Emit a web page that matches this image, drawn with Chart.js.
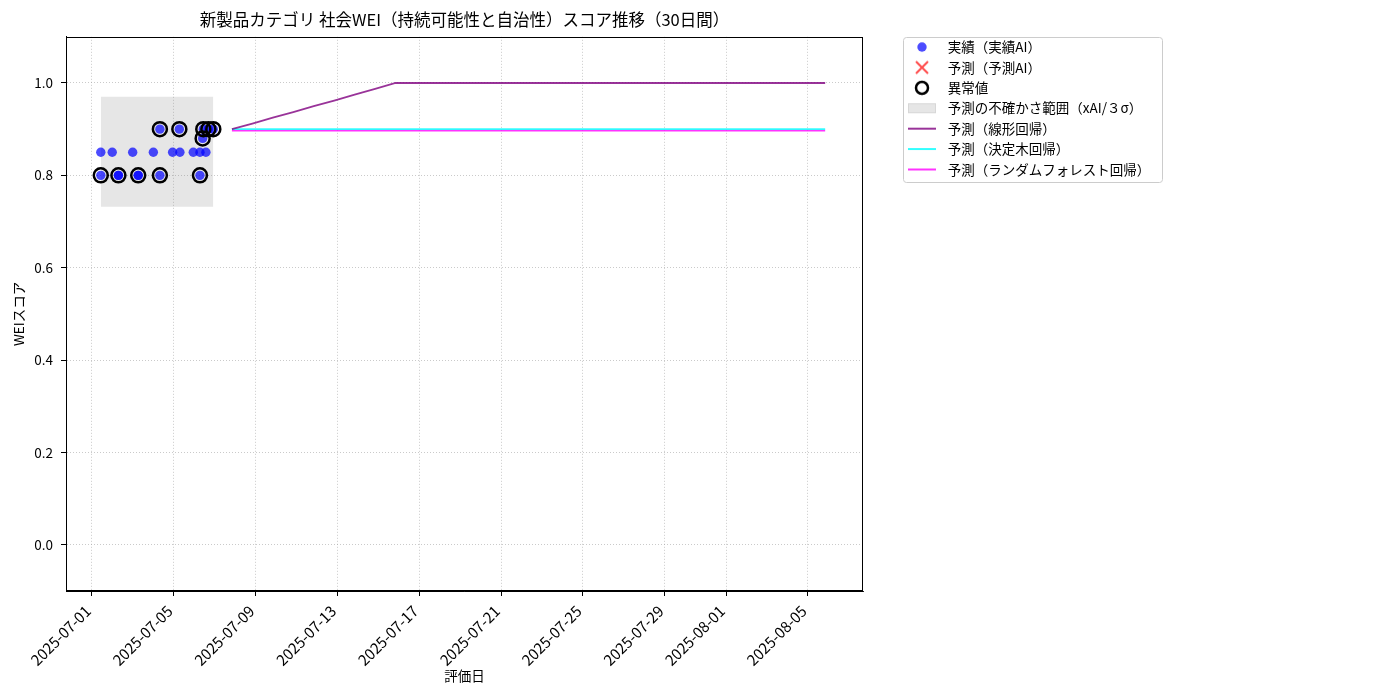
<!DOCTYPE html>
<html lang="ja">
<head>
<meta charset="utf-8">
<title>社会WEIスコア推移</title>
<script src="https://cdn.jsdelivr.net/npm/chart.js@4.4.1/dist/chart.umd.min.js"></script>
<style>
  html, body { margin: 0; padding: 0; background: #fff; }
  #chart { display: block; }
</style>
</head>
<body>
<canvas id="chart" width="1400" height="700"></canvas>
<script>
// 実績（評価日時とスコア）
const actualDates = [
    '2025-07-01T10:20', '2025-07-01T10:20', '2025-07-01T23:45',
    '2025-07-02T07:00', '2025-07-02T07:00', '2025-07-02T23:45',
    '2025-07-03T06:15', '2025-07-03T06:15', '2025-07-04T00:00',
    '2025-07-04T07:40', '2025-07-04T07:40', '2025-07-04T22:35',
    '2025-07-05T06:30', '2025-07-05T07:10', '2025-07-05T22:50',
    '2025-07-06T06:40', '2025-07-06T06:40', '2025-07-06T09:50',
    '2025-07-06T10:35', '2025-07-06T13:40', '2025-07-06T16:35',
    '2025-07-06T22:20'
];
const actualScores = [
    0.80, 0.85, 0.85,
    0.80, 0.80, 0.85,
    0.80, 0.80, 0.85,
    0.80, 0.90, 0.85,
    0.90, 0.85, 0.85,
    0.80, 0.85, 0.88,
    0.90, 0.85, 0.90,
    0.90
];

// 異常値
const outlierDates = [
    '2025-07-01T10:20', '2025-07-02T07:00', '2025-07-03T06:15',
    '2025-07-04T07:40', '2025-07-04T07:40', '2025-07-05T06:30',
    '2025-07-06T06:40', '2025-07-06T09:50', '2025-07-06T10:35',
    '2025-07-06T16:35', '2025-07-06T22:20'
];
const outlierScores = [0.80, 0.80, 0.80, 0.80, 0.90, 0.90, 0.80, 0.88, 0.90, 0.90, 0.90];

// 予測AI（図中に点は無い）
const aiDates = [];
const aiScores = [];

// 不確かさ範囲（xAI/3σ）
const bandDates = ['2025-07-01T10:20', '2025-07-06T22:20'];
const bandUpper = [0.970, 0.970];
const bandLower = [0.732, 0.732];

// 30日間の予測
const forecastDates = [
    '2025-07-07T20:10', '2025-07-08T20:10', '2025-07-09T20:10', '2025-07-10T20:10', '2025-07-11T20:10',
    '2025-07-12T20:10', '2025-07-13T20:10', '2025-07-14T20:10', '2025-07-15T20:10', '2025-07-16T20:10',
    '2025-07-17T20:10', '2025-07-18T20:10', '2025-07-19T20:10', '2025-07-20T20:10', '2025-07-21T20:10',
    '2025-07-22T20:10', '2025-07-23T20:10', '2025-07-24T20:10', '2025-07-25T20:10', '2025-07-26T20:10',
    '2025-07-27T20:10', '2025-07-28T20:10', '2025-07-29T20:10', '2025-07-30T20:10', '2025-07-31T20:10',
    '2025-08-01T20:10', '2025-08-02T20:10', '2025-08-03T20:10', '2025-08-04T20:10', '2025-08-05T20:10'
];
const linearScores = [
    0.900, 0.912, 0.925, 0.937, 0.950, 0.962, 0.975, 0.987, 1.000, 1.000,
    1.000, 1.000, 1.000, 1.000, 1.000, 1.000, 1.000, 1.000, 1.000, 1.000,
    1.000, 1.000, 1.000, 1.000, 1.000, 1.000, 1.000, 1.000, 1.000, 1.000
];
const treeScores = [
    0.900, 0.900, 0.900, 0.900, 0.900, 0.900, 0.900, 0.900, 0.900, 0.900,
    0.900, 0.900, 0.900, 0.900, 0.900, 0.900, 0.900, 0.900, 0.900, 0.900,
    0.900, 0.900, 0.900, 0.900, 0.900, 0.900, 0.900, 0.900, 0.900, 0.900
];
const forestScores = [
    0.897, 0.897, 0.897, 0.897, 0.897, 0.897, 0.897, 0.897, 0.897, 0.897,
    0.897, 0.897, 0.897, 0.897, 0.897, 0.897, 0.897, 0.897, 0.897, 0.897,
    0.897, 0.897, 0.897, 0.897, 0.897, 0.897, 0.897, 0.897, 0.897, 0.897
];

// 目盛り
const xTickLabels = [
    '2025-07-01', '2025-07-05', '2025-07-09', '2025-07-13', '2025-07-17',
    '2025-07-21', '2025-07-25', '2025-07-29', '2025-08-01', '2025-08-05'
];
const yTickValues = [0.0, 0.2, 0.4, 0.6, 0.8, 1.0];

const FONT = "'Noto Sans CJK JP', 'Noto Sans', sans-serif";
const BASE = Date.UTC(2025, 6, 1);

// 日付文字列 -> 2025-07-01 からの経過日数
function toDay(s) {
    const iso = s.length > 10 ? s + ':00Z' : s + 'T00:00:00Z';
    return (Date.parse(iso) - BASE) / 86400000;
}
function toPoints(dates, values) {
    return dates.map((d, i) => ({ x: toDay(d), y: values[i] }));
}
function dayLabel(v) {
    return new Date(BASE + Math.round(v * 86400000)).toISOString().slice(0, 10);
}
const xTickValues = xTickLabels.map(toDay);

// 凡例用の小さなアイコン
function makeIcon(draw) {
    const c = document.createElement('canvas');
    c.width = 34;
    c.height = 16;
    draw(c.getContext('2d'), 15, 8);
    return c;
}
const icons = {
    actual: makeIcon((g, x, y) => {
        g.fillStyle = 'rgba(0,0,255,0.7)';
        g.beginPath(); g.arc(x, y, 4.7, 0, Math.PI * 2); g.fill();
    }),
    ai: makeIcon((g, x, y) => {
        g.strokeStyle = 'rgba(255,0,0,0.7)';
        g.lineWidth = 2;
        g.beginPath();
        g.moveTo(x - 6, y - 6); g.lineTo(x + 6, y + 6);
        g.moveTo(x + 6, y - 6); g.lineTo(x - 6, y + 6);
        g.stroke();
    }),
    outlier: makeIcon((g, x, y) => {
        g.strokeStyle = '#000';
        g.lineWidth = 2.5;
        g.beginPath(); g.arc(x, y, 6, 0, Math.PI * 2); g.stroke();
    }),
    band: makeIcon((g, x, y) => {
        g.fillStyle = 'rgba(128,128,128,0.2)';
        g.fillRect(x - 14, y - 5, 28, 10);
        g.strokeStyle = 'rgba(128,128,128,0.15)';
        g.strokeRect(x - 13.5, y - 4.5, 27, 9);
    }),
    line: color => makeIcon((g, x, y) => {
        g.strokeStyle = color;
        g.lineWidth = 2;
        g.beginPath(); g.moveTo(x - 14, y); g.lineTo(x + 14, y); g.stroke();
    })
};

const legendEntries = [
    { text: '実績（実績AI）', icon: icons.actual, ds: 0 },
    { text: '予測（予測AI）', icon: icons.ai, ds: 1 },
    { text: '異常値', icon: icons.outlier, ds: 2 },
    { text: '予測の不確かさ範囲（xAI/３σ）', icon: icons.band, ds: 3 },
    { text: '予測（線形回帰）', icon: icons.line('rgba(128,0,128,0.8)'), ds: 5 },
    { text: '予測（決定木回帰）', icon: icons.line('rgba(0,255,255,0.8)'), ds: 6 },
    { text: '予測（ランダムフォレスト回帰）', icon: icons.line('rgba(255,0,255,0.8)'), ds: 7 }
];

const LEGEND_WIDTH = 537;

// 枠線と凡例の位置調整
const framePlugin = {
    id: 'frame',
    beforeLayout(chart) {
        const lg = chart.legend;
        if (lg && !lg._fixedWidth) {
            const fit = lg.fit;
            lg.fit = function () {
                fit.call(this);
                this.width = LEGEND_WIDTH;
            };
            lg._fixedWidth = true;
        }
    },
    afterLayout(chart) {
        const lg = chart.legend;
        const pad = lg.options.labels.padding;
        const dx = chart.chartArea.right + 44 - (lg.left + pad);
        lg.left += dx;
        lg.right += dx;
        const dy = chart.chartArea.top + 3.5 - (lg.top + pad);
        lg.top += dy;
        lg.bottom += dy;
    },
    afterDraw(chart) {
        const { ctx, chartArea: a } = chart;
        ctx.save();
        ctx.strokeStyle = '#000';
        ctx.lineWidth = 1;
        const l = Math.round(a.left) + 0.5, t = Math.round(a.top) + 0.5;
        const r = Math.round(a.right) - 0.5, b = Math.round(a.bottom) - 0.5;
        ctx.strokeRect(l, t, r - l, b - t);

        const boxes = chart.legend.legendHitBoxes;
        if (boxes && boxes.length) {
            let x1 = Infinity, y1 = Infinity, x2 = -Infinity, y2 = -Infinity;
            boxes.forEach(h => {
                x1 = Math.min(x1, h.left);
                y1 = Math.min(y1, h.top);
                x2 = Math.max(x2, h.left + h.width);
                y2 = Math.max(y2, h.top + h.height);
            });
            x1 = Math.round(x1 - 4) + 0.5;
            y1 = Math.round(y1 - 3.5) + 0.5;
            x2 = Math.round(x2 + 12) + 0.5;
            y2 = Math.round(y2 + 6) + 0.5;
            ctx.strokeStyle = '#cccccc';
            ctx.beginPath();
            ctx.roundRect(x1, y1, x2 - x1, y2 - y1, 3);
            ctx.stroke();
        }
        ctx.restore();
    }
};

const gridStyle = {
    color: 'rgba(160,160,160,0.7)',
    lineWidth: 0.8,
    tickColor: '#000',
    tickLength: 5,
    tickWidth: 1
};

new Chart(document.getElementById('chart'), {
    type: 'line',
    data: {
        datasets: [
            {
                label: '実績（実績AI）',
                data: toPoints(actualDates, actualScores),
                showLine: false,
                pointRadius: 4.7,
                pointBorderWidth: 0,
                pointBackgroundColor: 'rgba(0,0,255,0.7)',
                order: 2
            },
            {
                label: '予測（予測AI）',
                data: toPoints(aiDates, aiScores),
                showLine: false,
                pointStyle: 'crossRot',
                pointRadius: 6,
                pointBorderColor: 'rgba(255,0,0,0.7)',
                pointBorderWidth: 2,
                order: 2
            },
            {
                label: '異常値',
                data: toPoints(outlierDates, outlierScores),
                showLine: false,
                pointRadius: 7,
                pointBorderWidth: 2.5,
                pointBorderColor: '#000',
                pointBackgroundColor: 'rgba(0,0,0,0)',
                order: 1
            },
            {
                label: '予測の不確かさ範囲（xAI/３σ）',
                data: toPoints(bandDates, bandUpper),
                pointRadius: 0,
                borderWidth: 0,
                borderColor: 'rgba(0,0,0,0)',
                backgroundColor: 'rgba(128,128,128,0.2)',
                fill: '+1',
                order: 10
            },
            {
                label: 'band-lower',
                data: toPoints(bandDates, bandLower),
                pointRadius: 0,
                borderWidth: 0,
                borderColor: 'rgba(0,0,0,0)',
                fill: false,
                order: 10
            },
            {
                label: '予測（線形回帰）',
                data: toPoints(forecastDates, linearScores),
                borderColor: 'rgba(128,0,128,0.8)',
                borderWidth: 1.8,
                pointRadius: 0,
                order: 5
            },
            {
                label: '予測（決定木回帰）',
                data: toPoints(forecastDates, treeScores),
                borderColor: 'rgba(0,255,255,0.8)',
                borderWidth: 1.8,
                pointRadius: 0,
                order: 5
            },
            {
                label: '予測（ランダムフォレスト回帰）',
                data: toPoints(forecastDates, forestScores),
                borderColor: 'rgba(255,0,255,0.8)',
                borderWidth: 1.8,
                pointRadius: 0,
                order: 5
            }
        ]
    },
    options: {
        responsive: false,
        animation: false,
        events: [],
        layout: { padding: { left: 0, top: 0, right: 0, bottom: 0 } },
        scales: {
            x: {
                type: 'linear',
                min: -1.27,
                max: 37.69,
                afterBuildTicks: scale => {
                    scale.ticks = xTickValues.map(v => ({ value: v }));
                },
                afterFit: scale => { scale.height = 109; },
                ticks: {
                    callback: v => dayLabel(v),
                    minRotation: 45,
                    maxRotation: 45,
                    padding: 6,
                    labelOffset: -4,
                    color: '#000',
                    font: { family: FONT, size: 15 }
                },
                grid: gridStyle,
                border: { display: true, color: '#000', width: 1, dash: [1, 2] },
                title: {
                    display: true,
                    text: '評価日',
                    color: '#000',
                    font: { family: FONT, size: 13.5 },
                    padding: { top: 0, bottom: 16 }
                }
            },
            y: {
                min: -0.1,
                max: 1.1,
                afterBuildTicks: scale => {
                    scale.ticks = yTickValues.map(v => ({ value: v }));
                },
                afterFit: scale => { scale.width = 66; },
                ticks: {
                    callback: v => v.toFixed(1),
                    padding: 8,
                    color: '#000',
                    font: { family: FONT, size: 13.5 }
                },
                grid: gridStyle,
                border: { display: true, color: '#000', width: 1, dash: [1, 2] },
                title: {
                    display: true,
                    text: 'WEIスコア',
                    color: '#000',
                    font: { family: FONT, size: 13.5 },
                    padding: { top: 11, bottom: 0 }
                }
            }
        },
        plugins: {
            title: {
                display: true,
                text: '新製品カテゴリ 社会WEI（持続可能性と自治性）スコア推移（30日間）',
                color: '#000',
                fullSize: false,
                font: { family: FONT, size: 16.5, weight: 'normal' },
                padding: { top: 10, bottom: 7 }
            },
            legend: {
                position: 'right',
                align: 'start',
                fullSize: false,
                labels: {
                    usePointStyle: true,
                    pointStyleWidth: 34,
                    boxHeight: 13.5,
                    padding: 6.9,
                    color: '#000',
                    font: { family: FONT, size: 13.5 },
                    generateLabels: () => legendEntries.map(e => ({
                        text: e.text,
                        pointStyle: e.icon,
                        fillStyle: 'rgba(0,0,0,0)',
                        strokeStyle: 'rgba(0,0,0,0)',
                        lineWidth: 0,
                        fontColor: '#000',
                        hidden: false,
                        datasetIndex: e.ds
                    }))
                }
            },
            tooltip: { enabled: false }
        }
    },
    plugins: [framePlugin]
});
</script>
</body>
</html>
